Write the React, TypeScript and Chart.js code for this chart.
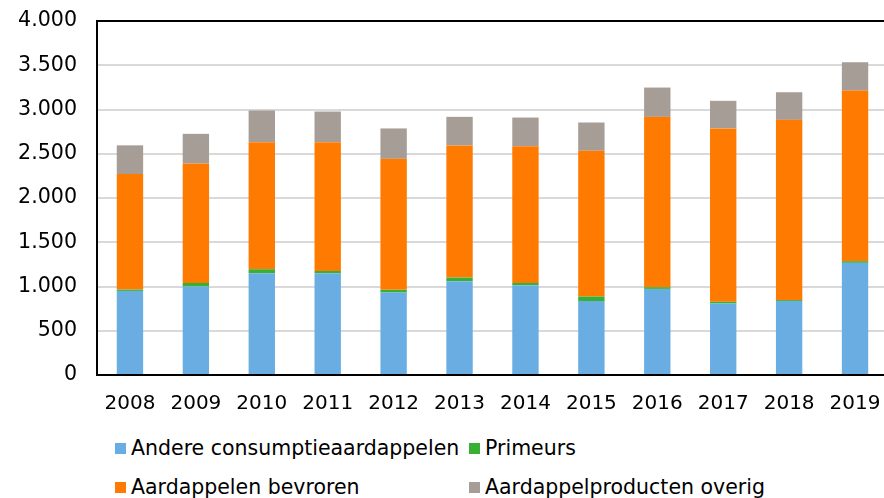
import React, { useEffect, useRef } from "react";
import { Chart, registerables } from "chart.js";

Chart.register(...registerables);

const years = ["2008", "2009", "2010", "2011", "2012", "2013", "2014", "2015", "2016", "2017", "2018", "2019"];
const andereConsumptie = [950, 1000, 1150, 1150, 932, 1060, 1015, 835, 973, 808, 835, 1267];
const primeurs = [15, 40, 45, 25, 30, 41, 25, 52, 19, 19, 11, 19];
const bevroren = [1305, 1350, 1436, 1456, 1481, 1493, 1545, 1647, 1925, 1959, 2037, 1928];
const productenOverig = [325, 335, 358, 346, 343, 323, 324, 319, 331, 312, 312, 320];
const yTicks = [0, 500, 1000, 1500, 2000, 2500, 3000, 3500, 4000];

const seriesNames = ["Andere consumptieaardappelen", "Primeurs", "Aardappelen bevroren", "Aardappelproducten overig"];
const seriesColors = ["#6aade2", "#38b034", "#ff7a00", "#a59d96"];
const seriesData = [andereConsumptie, primeurs, bevroren, productenOverig];

const fontFam = "'DejaVu Sans', Verdana, sans-serif";
const fmt = (v: number) => String(v).replace(/\B(?=(\d{3})+(?!\d))/g, ".");

export default function App() {
  const ref = useRef<HTMLCanvasElement | null>(null);
  useEffect(() => {
    if (!ref.current) return;
    const chart = new Chart(ref.current, {
      type: "bar",
      data: {
        labels: years,
        datasets: seriesNames.map((name, i) => ({
          label: name,
          data: seriesData[i],
          backgroundColor: seriesColors[i],
          borderWidth: 0,
          categoryPercentage: 1,
          barPercentage: 0.4,
        })),
      },
      options: {
        animation: false,
        responsive: false,
        maintainAspectRatio: false,
        layout: { padding: { top: 21, right: 1, left: 0, bottom: 0 } },
        plugins: { legend: { display: false }, tooltip: { enabled: false } },
        scales: {
          x: {
            stacked: true,
            grid: { display: false, drawTicks: false },
            border: { color: "#000", width: 2 },
            ticks: {
              color: "#000",
              padding: 17,
              font: { family: fontFam, size: 20 },
              maxRotation: 0,
              autoSkip: false,
            },
            afterFit: (s: any) => { s.height = 45; s.paddingLeft = 0; s.paddingRight = 0; },
          },
          y: {
            stacked: true,
            min: 0,
            max: 4000,
            afterBuildTicks: (s: any) => { s.ticks = yTicks.map((v) => ({ value: v })); },
            grid: {
              drawTicks: false,
              color: (c: any) => (c.tick && c.tick.value === 4000 ? "#000" : "#d9d9d9"),
              lineWidth: 2,
            },
            border: { color: "#000", width: 2 },
            ticks: {
              color: "#000",
              padding: 20,
              font: { family: fontFam, size: 20.6 },
              callback: (v: any) => fmt(Number(v)),
            },
            afterFit: (s: any) => { s.width = 97; s.paddingTop = 0; s.paddingBottom = 0; },
          },
        },
      },
    });
    return () => chart.destroy();
  }, []);

  return (
    <div style={{ position: "fixed", left: 0, top: 0, width: 884, height: 498, overflow: "hidden", background: "#fff" }}>
      <canvas ref={ref} width={889} height={420} style={{ position: "absolute", left: 0, top: 0, width: 889, height: 420 }} />
      <div
        style={{
          position: "absolute",
          left: 115,
          top: 436,
          display: "grid",
          gridTemplateColumns: "354px 400px",
          rowGap: 15,
          fontFamily: fontFam,
          fontSize: 20.5,
          color: "#000",
          lineHeight: "24px",
        }}
      >
        {seriesNames.map((name, i) => (
          <div key={name} style={{ display: "flex", alignItems: "center", whiteSpace: "nowrap" }}>
            <span style={{ display: "inline-block", flexShrink: 0, width: 11, height: 11, background: seriesColors[i], marginRight: 5 }} />
            <span>{name}</span>
          </div>
        ))}
      </div>
    </div>
  );
}
